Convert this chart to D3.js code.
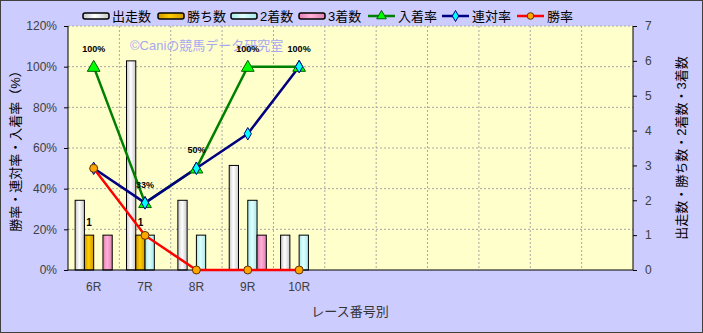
<!DOCTYPE html>
<html>
<head>
<meta charset="utf-8">
<script src="https://d3js.org/d3.v7.min.js"></script>
<style>
  body { margin: 0; background: #fff; }
  svg text { font-family: "Liberation Sans", "Noto Sans CJK JP", sans-serif; }
</style>
</head>
<body>
<div id="chart"></div>
<script>
// races (11 slots on the x axis, only the first 5 have data)
var races = ["6R", "7R", "8R", "9R", "10R", "", " ", "  ", "   ", "    ", "     "];
var runs   = [2, 6, 2, 3, 1];   // 出走数
var wins   = [1, 1, 0, 0, 0];   // 勝ち数
var second = [0, 1, 1, 2, 1];   // 2着数
var third  = [1, 0, 0, 1, 0];   // 3着数
var placeRate = [100, 33, 50, 100, 100]; // 入着率
var rentaiRate = [50, 33, 50, 67, 100];  // 連対率
var winRate = [50, 17, 0, 0, 0];          // 勝率
var leftTicks = [0, 20, 40, 60, 80, 100, 120];
var rightTicks = [0, 1, 2, 3, 4, 5, 6, 7];

var W = 703, H = 333;
var margin = {top: 26, right: 70, bottom: 63, left: 68};
var width = W - margin.left - margin.right,
    height = H - margin.top - margin.bottom;

var svg = d3.select("#chart").append("svg")
  .attr("width", W).attr("height", H);

var defs = svg.append("defs");
function grad(id, c1, c2) {
  var g = defs.append("linearGradient").attr("id", id)
    .attr("x1", "0").attr("x2", "1").attr("y1", "0").attr("y2", "0");
  g.append("stop").attr("offset", "0%").attr("stop-color", c2);
  g.append("stop").attr("offset", "45%").attr("stop-color", c1);
  g.append("stop").attr("offset", "100%").attr("stop-color", c2);
}
grad("gRun", "#ffffff", "#c8c8c8");
grad("gWin", "#ffcc00", "#d09a00");
grad("gSec", "#e0ffff", "#a8e8e8");
grad("gThr", "#ffb0d8", "#e080b0");

// background
svg.append("rect").attr("x", 0.5).attr("y", 0.5).attr("width", W - 1).attr("height", H - 1)
  .attr("fill", "#ccccff").attr("stroke", "#404040");

var g = svg.append("g").attr("transform", "translate(" + margin.left + "," + margin.top + ")");

g.append("rect").attr("width", width).attr("height", height).attr("fill", "#ffffcc");

var x = d3.scaleBand().domain(races).range([0, width]);
var y = d3.scaleLinear().domain([0, 120]).range([height, 0]);
var y2 = d3.scaleLinear().domain([0, 7]).range([height, 0]);

// gridlines
g.append("g").selectAll("line").data(leftTicks.slice(1)).enter().append("line")
  .attr("x1", 0).attr("x2", width)
  .attr("y1", function(d) { return y(d); }).attr("y2", function(d) { return y(d); })
  .attr("stroke", "#a8a8a8").attr("stroke-dasharray", "2,2");
g.append("g").selectAll("line").data(races.slice(1)).enter().append("line")
  .attr("x1", function(d) { return x(d); }).attr("x2", function(d) { return x(d); })
  .attr("y1", 0).attr("y2", height)
  .attr("stroke", "#a8a8a8").attr("stroke-dasharray", "2,2");

// watermark
g.append("text").attr("x", 62).attr("y", 24)
  .attr("fill", "#a8a8f0").attr("font-size", "13px")
  .text("©Caniの競馬データ研究室");

// bars
var seriesBars = [
  {vals: runs, fill: "url(#gRun)"},
  {vals: wins, fill: "url(#gWin)"},
  {vals: second, fill: "url(#gSec)"},
  {vals: third, fill: "url(#gThr)"}
];
var bw = x.bandwidth() / (4 + 1.54);
var off = (x.bandwidth() - 4 * bw) / 2;
seriesBars.forEach(function(s, i) {
  g.append("g").selectAll("rect")
    .data(s.vals.map(function(v, j) { return {v: v, race: races[j]}; }).filter(function(d) { return d.v > 0; }))
    .enter().append("rect")
    .attr("x", function(d) { return x(d.race) + off + i * bw; })
    .attr("y", function(d) { return y2(d.v); })
    .attr("width", bw)
    .attr("height", function(d) { return height - y2(d.v); })
    .attr("fill", s.fill)
    .attr("stroke", "#000").attr("stroke-width", 1);
});

// "1" labels on 勝ち数
wins.forEach(function(v, j) {
  if (v <= 0) return;
  g.append("text")
    .attr("x", x(races[j]) + off + 1.5 * bw)
    .attr("y", y2(v) - 9)
    .attr("text-anchor", "middle").attr("font-size", "10px").attr("font-weight", "bold")
    .text(v);
});

// axes lines
g.append("line").attr("x1", 0).attr("x2", 0).attr("y1", 0).attr("y2", height).attr("stroke", "#000");
g.append("line").attr("x1", width).attr("x2", width).attr("y1", 0).attr("y2", height).attr("stroke", "#000");
g.append("line").attr("x1", 0).attr("x2", width).attr("y1", height).attr("y2", height).attr("stroke", "#000");

var axL = g.append("g").call(d3.axisLeft(y).tickValues(leftTicks).tickSize(4).tickPadding(7)
  .tickFormat(function(d) { return d + "%"; }));
var axR = g.append("g").attr("transform", "translate(" + width + ",0)")
  .call(d3.axisRight(y2).tickValues(rightTicks).tickSize(4).tickPadding(8).tickFormat(d3.format("d")));
var axB = g.append("g").attr("transform", "translate(0," + height + ")")
  .call(d3.axisBottom(x).tickSize(0).tickPadding(12));
[axL, axR, axB].forEach(function(a) {
  a.select(".domain").remove();
  a.selectAll("text").attr("font-size", "12px").attr("fill", "#404040");
});

// lines
var lineSeries = [
  {vals: placeRate, stroke: "#008000", marker: "tri", mfill: "#00ff00", mstroke: "#006000"},
  {vals: rentaiRate, stroke: "#000080", marker: "dia", mfill: "#00ffff", mstroke: "#000080"},
  {vals: winRate, stroke: "#ff0000", marker: "cir", mfill: "#ffa500", mstroke: "#603000"}
];
var cx = function(j) { return x(races[j]) + x.bandwidth() / 2; };
var line = d3.line().x(function(d, j) { return cx(j); }).y(function(d) { return y(d); });
lineSeries.forEach(function(s) {
  g.append("path").datum(s.vals).attr("d", line)
    .attr("fill", "none").attr("stroke", s.stroke).attr("stroke-width", 2.5);
});
lineSeries.forEach(function(s) {
  var sym = s.marker === "tri" ? d3.symbolTriangle : s.marker === "dia" ? d3.symbolDiamond : d3.symbolCircle;
  var size = s.marker === "tri" ? 70 : s.marker === "dia" ? 45 : 50;
  g.append("g").selectAll("path").data(s.vals).enter().append("path")
    .attr("d", d3.symbol().type(sym).size(size))
    .attr("transform", function(d, j) { return "translate(" + cx(j) + "," + (y(d) + (s.marker === "tri" ? 1 : 0)) + ")"; })
    .attr("fill", s.mfill).attr("stroke", s.mstroke).attr("stroke-width", 1);
});

// 入着率 labels
placeRate.forEach(function(v, j) {
  g.append("text").attr("x", cx(j)).attr("y", y(v) - 15)
    .attr("text-anchor", "middle").attr("font-size", "9px").attr("font-weight", "bold")
    .text(v + "%");
});

// axis titles
svg.append("text")
  .attr("transform", "translate(20," + (margin.top + height / 2) + ") rotate(-90)")
  .attr("text-anchor", "middle").attr("font-size", "13px").attr("fill", "#000")
  .text("勝率・連対率・入着率（%）");
svg.append("text")
  .attr("transform", "translate(686," + (margin.top + height / 2) + ") rotate(-90)")
  .attr("text-anchor", "middle").attr("font-size", "13px").attr("fill", "#000")
  .text("出走数・勝ち数・2着数・3着数");
svg.append("text").attr("x", 350).attr("y", 316)
  .attr("text-anchor", "middle").attr("font-size", "13px").attr("fill", "#333")
  .text("レース番号別");

// legend
var legendItems = [
  {name: "出走数", type: "bar", fill: "url(#gRun)", x: 83},
  {name: "勝ち数", type: "bar", fill: "url(#gWin)", x: 158},
  {name: "2着数", type: "bar", fill: "url(#gSec)", x: 231},
  {name: "3着数", type: "bar", fill: "url(#gThr)", x: 299},
  {name: "入着率", type: "line", s: lineSeries[0], x: 368},
  {name: "連対率", type: "line", s: lineSeries[1], x: 442},
  {name: "勝率", type: "line", s: lineSeries[2], x: 517}
];
var lg = svg.append("g");
var ly = 16;
legendItems.forEach(function(it) {
  if (it.type === "bar") {
    lg.append("rect").attr("x", it.x).attr("y", ly - 3).attr("width", 26).attr("height", 6)
      .attr("rx", 2).attr("fill", it.fill).attr("stroke", "#000").attr("stroke-width", 1.5);
  } else {
    lg.append("line").attr("x1", it.x).attr("x2", it.x + 27).attr("y1", ly).attr("y2", ly)
      .attr("stroke", it.s.stroke).attr("stroke-width", 2.5);
    var sym = it.s.marker === "tri" ? d3.symbolTriangle : it.s.marker === "dia" ? d3.symbolDiamond : d3.symbolCircle;
    lg.append("path").attr("d", d3.symbol().type(sym).size(it.s.marker === "tri" ? 40 : 35))
      .attr("transform", "translate(" + (it.x + 13.5) + "," + ly + ")")
      .attr("fill", it.s.mfill).attr("stroke", it.s.mstroke);
  }
  lg.append("text").attr("x", it.x + (it.type === "bar" ? 29 : 30)).attr("y", ly + 5)
    .attr("font-size", "13px").attr("fill", "#000").text(it.name);
});
</script>
</body>
</html>
